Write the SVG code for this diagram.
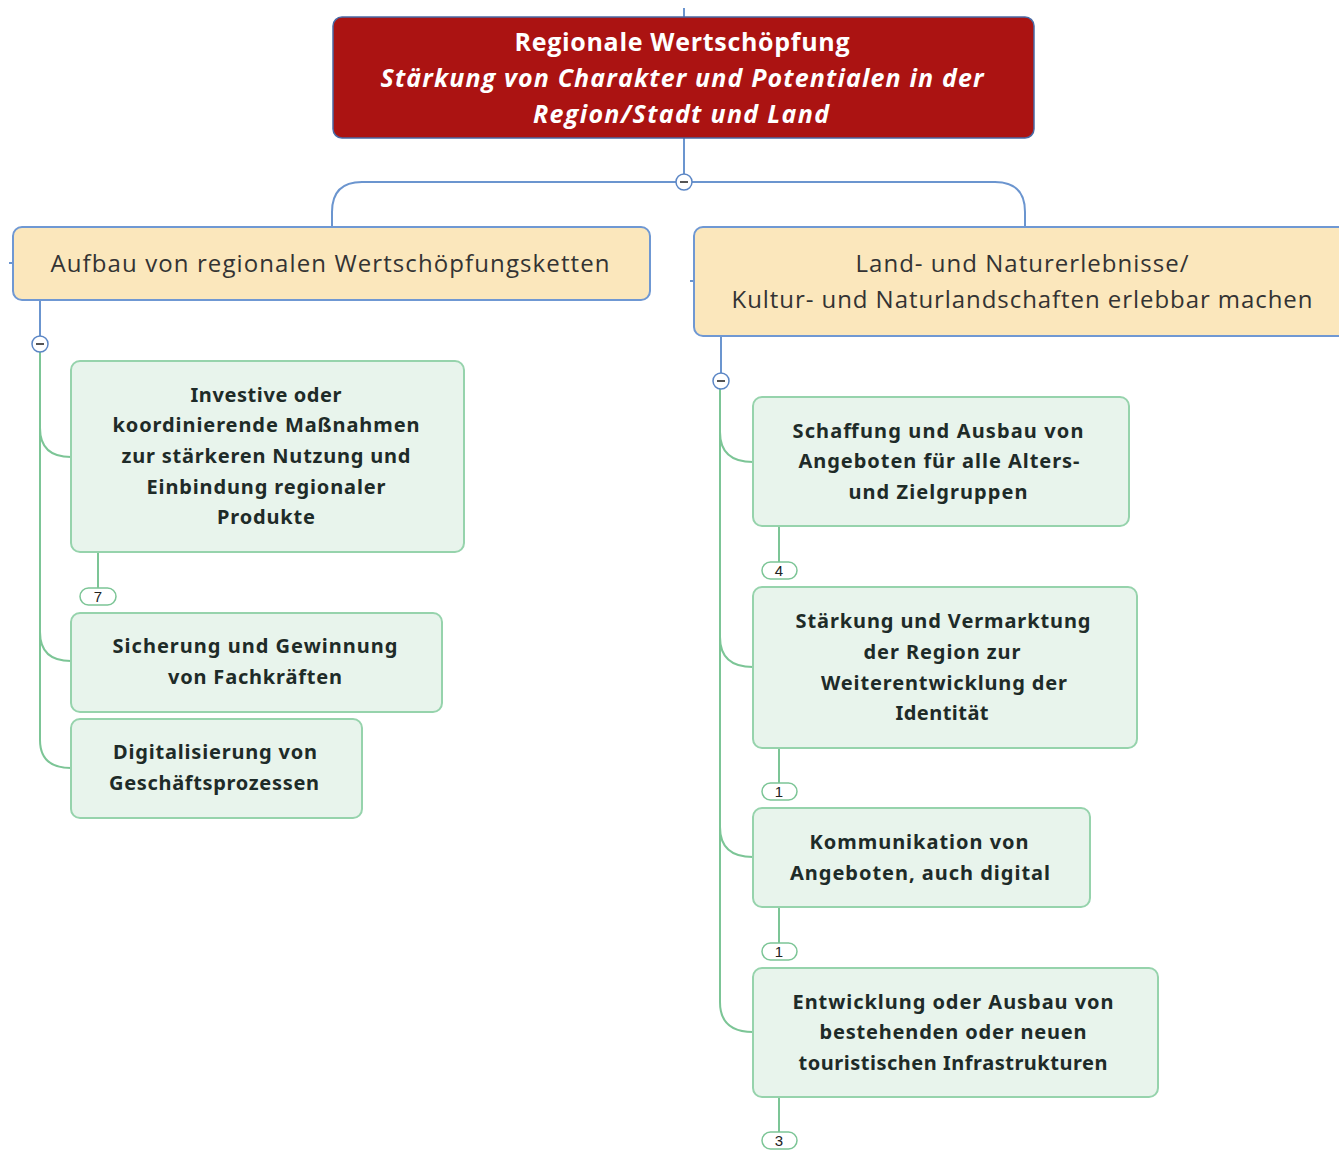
<svg xmlns="http://www.w3.org/2000/svg" width="1339" height="1150" viewBox="0 0 1339 1150">
<style>
.bg{fill:#ffffff}
.root{fill:#ab1312;stroke:#4a6aa5;stroke-width:1.5}
.topic{fill:#fbe7bc;stroke:#6f98d3;stroke-width:2}
.child{fill:#e8f4ec;stroke:#96d3ac;stroke-width:2}
.pill{fill:#ffffff;stroke:#7cc596;stroke-width:1.5}
.blue{fill:none;stroke:#6b95cf;stroke-width:2}
.green{fill:none;stroke:#7cc596;stroke-width:2}
.tog{fill:#ffffff;stroke:#5b86c5;stroke-width:1.5}
.minus{stroke:#555;stroke-width:2}
.rt{font-family:"Open Sans","Liberation Sans",sans-serif;font-weight:bold;font-size:25px;fill:#ffffff;text-anchor:middle}
.rti{font-style:italic}
.tt{font-family:"Open Sans","Liberation Sans",sans-serif;font-size:24px;fill:#333333;text-anchor:middle}
.ct{font-family:"Noto Sans","DejaVu Sans",sans-serif;font-weight:bold;font-size:20px;fill:#1e2b28;text-anchor:middle}
.pt{font-family:"Liberation Sans",sans-serif;font-size:15px;fill:#222;text-anchor:middle}
</style>
<rect class="bg" x="0" y="0" width="1339" height="1150"/>

<g id="connectors">
  <path class="blue" d="M684,8 V17"/>
  <path class="blue" d="M684,138 V174"/>
  <path class="blue" d="M676,182 H362 Q332,182 332,212 V227"/>
  <path class="blue" d="M692,182 H995 Q1025,182 1025,212 V227"/>
  <path class="blue" d="M13,263 H9"/>
  <path class="blue" d="M694,281 H690"/>
  <path class="blue" d="M40,300 V336"/>
  <path class="blue" d="M721,336 V373"/>
  <path class="green" d="M40,352 V740 Q40,768 71,768"/>
  <path class="green" d="M40,428 Q40,457 71,457"/>
  <path class="green" d="M40,632 Q40,661 71,661"/>
  <path class="green" d="M98,552 V588"/>
  <path class="green" d="M720,389 V1002 Q720,1032 753,1032"/>
  <path class="green" d="M720,432 Q720,462 753,462"/>
  <path class="green" d="M720,637 Q720,667 753,667"/>
  <path class="green" d="M720,827 Q720,857 753,857"/>
  <path class="green" d="M779,526 V562"/>
  <path class="green" d="M779,748 V783"/>
  <path class="green" d="M779,907 V943"/>
  <path class="green" d="M779,1097 V1132"/>
</g>

<g id="toggles">
  <circle class="tog" cx="684" cy="182" r="8"/><path class="minus" d="M680,182 H688"/>
  <circle class="tog" cx="40" cy="344" r="8"/><path class="minus" d="M36,344 H44"/>
  <circle class="tog" cx="721" cy="381" r="8"/><path class="minus" d="M717,381 H725"/>
</g>

<g id="root">
  <rect class="root" x="333" y="17" width="701" height="121" rx="9"/>
  <text class="rt" x="682" y="51" textLength="335">Regionale Wertschöpfung</text>
  <text class="rt rti" x="682" y="87" textLength="603">Stärkung von Charakter und Potentialen in der</text>
  <text class="rt rti" x="681" y="123" textLength="296">Region/Stadt und Land</text>
</g>

<g id="topic-left">
  <rect class="topic" x="13" y="227" width="637" height="73" rx="9"/>
  <text class="tt" x="330" y="272" textLength="559">Aufbau von regionalen Wertschöpfungsketten</text>
</g>

<g id="topic-right">
  <rect class="topic" x="694" y="227" width="660" height="109" rx="9"/>
  <text class="tt" x="1022" y="272" textLength="333">Land- und Naturerlebnisse/</text>
  <text class="tt" x="1022" y="308" textLength="581">Kultur- und Naturlandschaften erlebbar machen</text>
</g>

<g id="left-1">
  <rect class="child" x="71" y="361" width="393" height="191" rx="9"/>
  <text class="ct" x="266" y="402" textLength="151">Investive oder</text>
  <text class="ct" x="266" y="432" textLength="307">koordinierende Maßnahmen</text>
  <text class="ct" x="266" y="463" textLength="289">zur stärkeren Nutzung und</text>
  <text class="ct" x="266" y="494" textLength="239">Einbindung regionaler</text>
  <text class="ct" x="266" y="524" textLength="98">Produkte</text>
</g>
<g id="left-1-count">
  <rect class="pill" x="80" y="588" width="36" height="17" rx="8.5"/>
  <text class="pt" x="98" y="602">7</text>
</g>

<g id="left-2">
  <rect class="child" x="71" y="613" width="371" height="99" rx="9"/>
  <text class="ct" x="255" y="653" textLength="285">Sicherung und Gewinnung</text>
  <text class="ct" x="255" y="684" textLength="174">von Fachkräften</text>
</g>

<g id="left-3">
  <rect class="child" x="71" y="719" width="291" height="99" rx="9"/>
  <text class="ct" x="215" y="759" textLength="204">Digitalisierung von</text>
  <text class="ct" x="214" y="790" textLength="210">Geschäftsprozessen</text>
</g>

<g id="right-1">
  <rect class="child" x="753" y="397" width="376" height="129" rx="9"/>
  <text class="ct" x="938" y="438" textLength="291">Schaffung und Ausbau von</text>
  <text class="ct" x="939" y="468" textLength="281">Angeboten für alle Alters-</text>
  <text class="ct" x="938" y="499" textLength="179">und Zielgruppen</text>
</g>
<g id="right-1-count">
  <rect class="pill" x="762" y="562" width="35" height="17" rx="8.5"/>
  <text class="pt" x="779" y="576">4</text>
</g>

<g id="right-2">
  <rect class="child" x="753" y="587" width="384" height="161" rx="9"/>
  <text class="ct" x="943" y="628" textLength="295">Stärkung und Vermarktung</text>
  <text class="ct" x="942" y="659" textLength="157">der Region zur</text>
  <text class="ct" x="944" y="690" textLength="246">Weiterentwicklung der</text>
  <text class="ct" x="942" y="720" textLength="93">Identität</text>
</g>
<g id="right-2-count">
  <rect class="pill" x="762" y="783" width="35" height="17" rx="8.5"/>
  <text class="pt" x="779" y="797">1</text>
</g>

<g id="right-3">
  <rect class="child" x="753" y="808" width="337" height="99" rx="9"/>
  <text class="ct" x="919" y="849" textLength="219">Kommunikation von</text>
  <text class="ct" x="920" y="880" textLength="260">Angeboten, auch digital</text>
</g>
<g id="right-3-count">
  <rect class="pill" x="762" y="943" width="35" height="17" rx="8.5"/>
  <text class="pt" x="779" y="957">1</text>
</g>

<g id="right-4">
  <rect class="child" x="753" y="968" width="405" height="129" rx="9"/>
  <text class="ct" x="953" y="1009" textLength="321">Entwicklung oder Ausbau von</text>
  <text class="ct" x="953" y="1039" textLength="267">bestehenden oder neuen</text>
  <text class="ct" x="953" y="1070" textLength="309">touristischen Infrastrukturen</text>
</g>
<g id="right-4-count">
  <rect class="pill" x="762" y="1132" width="35" height="17" rx="8.5"/>
  <text class="pt" x="779" y="1146">3</text>
</g>
</svg>
